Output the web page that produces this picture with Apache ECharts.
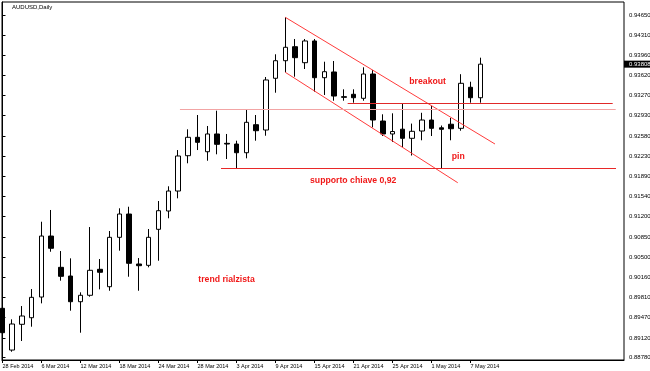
<!DOCTYPE html>
<html>
<head>
<meta charset="utf-8">
<script src="https://cdn.jsdelivr.net/npm/echarts@6/dist/echarts.min.js"></script>
<style>html,body{margin:0;padding:0;background:#fff;}#c{width:650px;height:371px;}</style>
</head>
<body>
<div id="c"></div>
<script>
const dates = ['28 Feb 2014','3 Mar 2014','4 Mar 2014','5 Mar 2014','6 Mar 2014','7 Mar 2014',
 '10 Mar 2014','11 Mar 2014','12 Mar 2014','13 Mar 2014','14 Mar 2014',
 '17 Mar 2014','18 Mar 2014','19 Mar 2014','20 Mar 2014','21 Mar 2014',
 '24 Mar 2014','25 Mar 2014','26 Mar 2014','27 Mar 2014','28 Mar 2014',
 '31 Mar 2014','1 Apr 2014','2 Apr 2014','3 Apr 2014','4 Apr 2014',
 '7 Apr 2014','8 Apr 2014','9 Apr 2014','10 Apr 2014','11 Apr 2014',
 '14 Apr 2014','15 Apr 2014','16 Apr 2014','17 Apr 2014','18 Apr 2014',
 '21 Apr 2014','22 Apr 2014','23 Apr 2014','24 Apr 2014','25 Apr 2014',
 '28 Apr 2014','29 Apr 2014','30 Apr 2014','1 May 2014','2 May 2014',
 '5 May 2014','6 May 2014','7 May 2014','8 May 2014'];
const opens = [0.89626,0.88911,0.89352,0.89465,0.89819,0.90864,0.90328,0.90179,0.89739,0.89849,
 0.90294,0.89996,0.90842,0.91241,0.90385,0.90362,0.90979,0.91293,0.91635,0.92240,
 0.92555,0.92308,0.92612,0.92452,0.92440,0.92291,0.92771,0.92680,0.93566,0.93867,
 0.94107,0.93833,0.94205,0.93576,0.93674,0.93251,0.93292,0.93223,0.93639,0.92834,
 0.92612,0.92694,0.92538,0.92663,0.92851,0.92718,0.92779,0.92709,0.93412,0.93233];
const closes = [0.89208,0.89357,0.89494,0.89814,0.90864,0.90654,0.90174,0.89739,0.89849,0.90277,
 0.90243,0.90842,0.91241,0.90397,0.90356,0.90842,0.91298,0.91635,0.92235,0.92555,
 0.92469,0.92612,0.92435,0.92440,0.92291,0.92812,0.92668,0.93537,0.93867,0.94097,
 0.93919,0.94205,0.93576,0.93679,0.93262,0.93240,0.93233,0.93639,0.92851,0.92612,
 0.92654,0.92538,0.92658,0.92851,0.92709,0.92692,0.92702,0.93480,0.93233,0.93808];
const lows = [0.89129,0.88882,0.89066,0.89311,0.89711,0.90595,0.90099,0.89585,0.89208,0.89825,
 0.89951,0.89927,0.90613,0.90167,0.89927,0.90328,0.90441,0.91168,0.91510,0.92110,
 0.92337,0.92154,0.92264,0.92183,0.92029,0.92195,0.92497,0.92582,0.93319,0.93668,
 0.93593,0.93725,0.93336,0.93280,0.93182,0.93182,0.93148,0.93182,0.92726,0.92577,
 0.92475,0.92389,0.92243,0.92504,0.92577,0.92021,0.92504,0.92668,0.93148,0.93148];
const highs = [0.89871,0.89437,0.89665,0.89956,0.91109,0.91310,0.90607,0.90482,0.89900,0.91018,
 0.90470,0.90950,0.91339,0.91366,0.90487,0.90984,0.91464,0.91716,0.92337,0.92692,
 0.92937,0.92749,0.93011,0.92612,0.92497,0.93035,0.92937,0.93588,0.93977,0.94611,
 0.94239,0.94239,0.94239,0.93850,0.93862,0.93377,0.93377,0.93754,0.93708,0.92949,
 0.92966,0.93129,0.92790,0.92975,0.93091,0.92757,0.92886,0.93636,0.93507,0.93919];
const priceTicks = [0.94650,0.94310,0.93960,0.93620,0.93270,0.92930,0.92580,0.92230,0.91890,
 0.91540,0.91200,0.90850,0.90500,0.90160,0.89810,0.89470,0.89120,0.88780];
const dateTickIdx = [0,4,8,12,16,20,24,28,32,36,40,44,48];
const lastPrice = 0.93808;
const channelUpper = [[29, 0.94611], [50.51, 0.92440]];
const channelLower = [[29, 0.93669], [46.69, 0.91777]];
const supportLine = [[22.41, 0.92020], [62.92, 0.92020]];
const breakoutLine = [[35.4, 0.93138], [62.58, 0.93138]];
const resistLine = [[18.2, 0.93036], [62.89, 0.93036]];
const notes = [
  {text: 'breakout', x: 41.72, y: 0.93508},
  {text: 'pin', x: 46.07, y: 0.92218},
  {text: 'supporto chiave 0,92', x: 31.54, y: 0.91815},
  {text: 'trend rialzista', x: 20.08, y: 0.90123}
];

const FONT = 'Liberation Sans, Arial, sans-serif';
const Y_MIN = 0.887406, Y_MAX = 0.948727;
const rows = opens.map((o, i) => [i, o, closes[i], lows[i], highs[i]]);
function seg(pts, color, width) {
  return [{coord: pts[0], lineStyle: {color: color, width: width, type: 'solid'}}, {coord: pts[1]}];
}

const chart = echarts.init(document.getElementById('c'), null, {renderer: 'canvas'});
chart.setOption({
  animation: false,
  backgroundColor: '#ffffff',
  title: {
    text: 'AUDUSD,Daily', left: 12, top: 4, padding: 0,
    textStyle: {fontSize: 6, fontWeight: 'normal', color: '#000', fontFamily: FONT}
  },
  grid: {left: 2, right: 26, top: 2, bottom: 11, show: true, borderColor: '#000', borderWidth: 1,
    containLabel: false, outerBoundsMode: 'none'},
  xAxis: {
    type: 'value', min: -0.05, max: 63.74, scale: true,
    splitLine: {show: false},
    axisLine: {show: true, onZero: false, lineStyle: {color: '#000', width: 1}},
    axisTick: {show: true, customValues: dateTickIdx, length: 3, lineStyle: {color: '#000'}},
    axisLabel: {show: true, customValues: dateTickIdx, formatter: v => dates[v] || '',
      align: 'left', margin: 3, fontSize: 5.5, color: '#000', fontFamily: FONT,
      showMinLabel: true, showMaxLabel: true}
  },
  yAxis: [{
    type: 'value', position: 'right', min: Y_MIN, max: Y_MAX, scale: true,
    splitLine: {show: false},
    axisLine: {show: true, lineStyle: {color: '#000', width: 1}},
    axisTick: {show: true, customValues: priceTicks, length: 3, lineStyle: {color: '#000'}},
    axisLabel: {show: true, customValues: priceTicks, formatter: v => v.toFixed(5),
      margin: 5, fontSize: 6, color: '#000', fontFamily: FONT}
  }, {
    type: 'value', position: 'right', min: Y_MIN, max: Y_MAX, scale: true, offset: 0,
    splitLine: {show: false},
    axisLine: {show: false},
    axisTick: {show: false},
    axisLabel: {show: true, customValues: [lastPrice], formatter: v => v.toFixed(5),
      margin: 0, fontSize: 6, color: '#fff', backgroundColor: '#000', padding: [1, 2, 0, 5],
      fontFamily: FONT, showMinLabel: true, showMaxLabel: true}
  }],
  series: [{
    type: 'candlestick',
    data: rows,
    encode: {x: 0, y: [1, 2, 3, 4]},
    barWidth: 5,
    itemStyle: {color: '#ffffff', color0: '#000000', borderColor: '#000000', borderColor0: '#000000',
      borderColorDoji: '#000000', borderWidth: 1},
    markLine: {
      silent: true, symbol: ['none', 'none'], animation: false,
      label: {show: false},
      data: [
        seg(channelUpper, '#ff3b3b', 1),
        seg(channelLower, '#ff3b3b', 1),
        seg(supportLine, '#e82828', 1),
        seg(breakoutLine, '#e02828', 1),
        seg(resistLine, '#f2a4a4', 1)
      ]
    },
    markPoint: {
      silent: true, animation: false,
      data: notes.map(n => ({
        name: n.text, coord: [n.x, n.y], symbol: 'circle', symbolSize: 0,
        label: {show: true, formatter: n.text, position: 'inside', align: 'left', verticalAlign: 'middle',
          color: '#f01818', fontSize: 8.7, fontWeight: 'bold', fontFamily: FONT}
      }))
    }
  }]
});
</script>
</body>
</html>
